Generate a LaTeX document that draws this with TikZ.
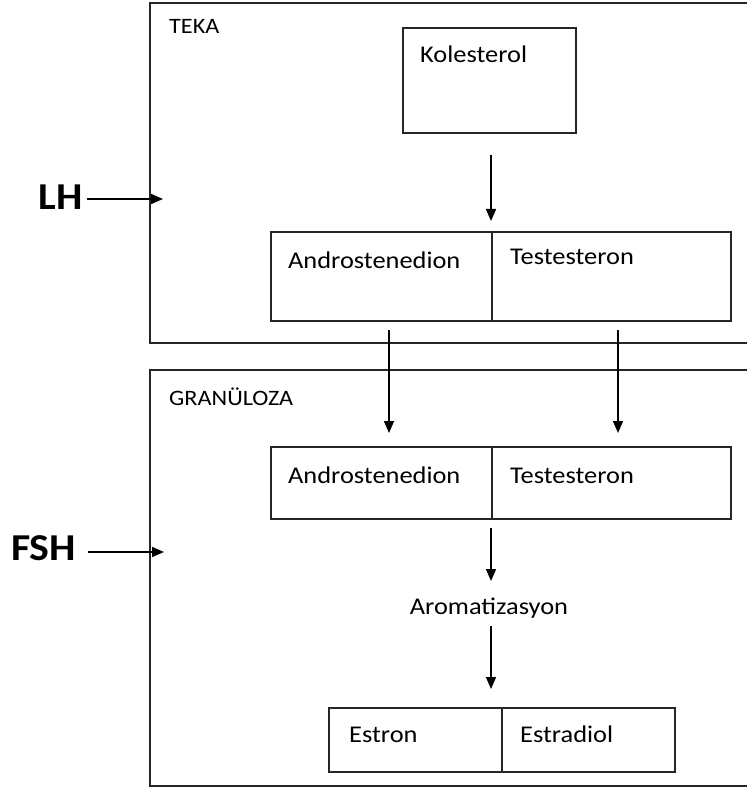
\documentclass[tikz,border=0pt]{standalone}
\usepackage{fontspec}
\setmainfont{Carlito}[FakeStretch=1.1]
\usetikzlibrary{arrows.meta}
\begin{document}
\begin{tikzpicture}[x=1pt,y=-1pt,
  line/.style={line width=1.8pt, draw=black!85},
  cell/.style={draw=black!85, line width=1.8pt, inner sep=0pt, anchor=north west},
  txt/.style={inner sep=0pt, anchor=base west, font=\fontsize{24}{27}\selectfont},
  lbl/.style={inner sep=0pt, anchor=base west, font=\fontsize{22}{25}\selectfont},
  hor/.style={inner sep=0pt, anchor=base east, font=\fontsize{38}{42}\selectfont\bfseries},
  arr/.style={line width=1.6pt, -{Triangle[width=10pt,length=12pt]}}]
\useasboundingbox (0,0) rectangle (747,791);
% outer compartments (cut at the right edge)
\draw[line] (747,3) -- (150,3) -- (150,343) -- (747,343);
\draw[line] (747,370) -- (150,370) -- (150,786) -- (747,786);
\node[lbl] (teka) at (169,34) {TEKA};
\node[lbl] (gran) at (169,405) {GRANÜLOZA};
% TEKA boxes
\node[cell, minimum width=173pt, minimum height=105pt] (kol) at (402,27) {};
\node[txt] (kolt) at (420,63) {Kolesterol};
\node[cell, minimum width=221pt, minimum height=89pt] (a1) at (270,231) {};
\node[cell, minimum width=239pt, minimum height=89pt] (t1) at (491,231) {};
\node[txt] (a1t) at (288,269) {Androstenedion};
\node[txt] (t1t) at (510,265) {Testesteron};
% GRANULOZA boxes
\node[cell, minimum width=221pt, minimum height=72pt] (a2) at (270,446) {};
\node[cell, minimum width=239pt, minimum height=72pt] (t2) at (491,446) {};
\node[txt] (a2t) at (288,483) {Androstenedion};
\node[txt] (t2t) at (510,483) {Testesteron};
\node[txt, anchor=base] (aro) at (489,614) {Aromatizasyon};
\node[cell, minimum width=173pt, minimum height=64pt] (es) at (328,707) {};
\node[cell, minimum width=173pt, minimum height=64pt] (ed) at (501,707) {};
\node[txt] (est) at (349,742) {Estron};
\node[txt] (edt) at (520,742) {Estradiol};
% hormones
\node[hor] (lh) at (83,210) {LH};
\node[hor] (fsh) at (76,560) {FSH};
\coordinate (lhend) at (163,199);
\coordinate (fshend) at (164,552);
\draw[arr] (87,199) -- (lhend);
\draw[arr] (88,552) -- (fshend);
% vertical arrows
\coordinate (k1) at (491,155);
\coordinate (k2) at (491,221);
\draw[arr] (k1) -- (k2);
\coordinate (p1) at (389,330);
\coordinate (p2) at (389,433);
\coordinate (q1) at (618,330);
\coordinate (q2) at (618,433);
\draw[arr] (p1) -- (p2);
\draw[arr] (q1) -- (q2);
\coordinate (r1) at (491,528);
\coordinate (r2) at (491,581);
\draw[arr] (r1) -- (r2);
\coordinate (s1) at (491,626);
\coordinate (s2) at (491,689);
\draw[arr] (s1) -- (s2);
\end{tikzpicture}
\end{document}
